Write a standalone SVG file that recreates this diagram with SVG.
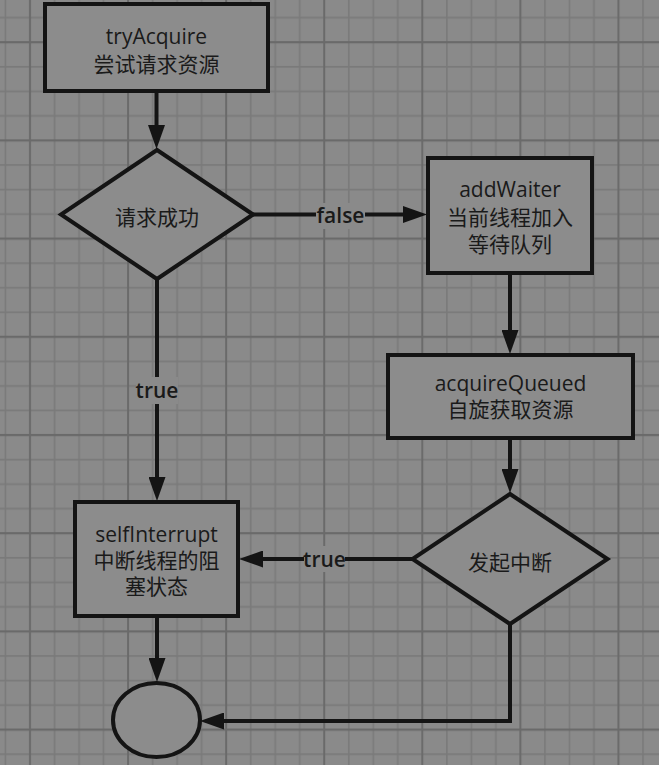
<svg xmlns="http://www.w3.org/2000/svg" width="659" height="765" viewBox="0 0 659 765">
<defs>
<style>
.node{fill:#8c8c8c;stroke:#141414;stroke-width:4;stroke-linejoin:miter}
.t{font-family:"Open Sans","Noto Sans CJK SC",sans-serif;font-size:21px;fill:#1a1a1a;text-anchor:middle}
.lbl{font-weight:600}
.lblbg{fill:#8a8a8a}
.edge{fill:none;stroke:#141414;stroke-width:4}
.minor{stroke:#7a7a7a;stroke-width:1.6}
.major{stroke:#6a6a6a;stroke-width:2}
</style>
<pattern id="grid" x="-6.76" y="5.425" width="98.08" height="98.2" patternUnits="userSpaceOnUse">
<path class="minor" d="M12.26 0V98.2M61.3 0V98.2M85.82 0V98.2M0 12.275H98.08M0 61.375H98.08M0 85.925H98.08"/>
<path class="major" d="M36.78 0V98.2M0 36.825H98.08"/>
</pattern>
<marker id="arrow" viewBox="0 0 24 17" markerWidth="24" markerHeight="17" refX="14" refY="8.5" orient="auto" markerUnits="userSpaceOnUse">
<path d="M0 0L24 8.5L0 17z" fill="#141414"/>
</marker>
</defs>
<rect width="659" height="765" fill="#8a8a8a"/>
<rect width="659" height="765" fill="url(#grid)"/>

<g id="connectors">
<path class="edge" d="M156.5 91V139" marker-end="url(#arrow)"/>
<path class="edge" d="M253 214.5H417" marker-end="url(#arrow)"/>
<path class="edge" d="M510 273V344" marker-end="url(#arrow)"/>
<path class="edge" d="M510 438V483" marker-end="url(#arrow)"/>
<path class="edge" d="M413 559H249" marker-end="url(#arrow)"/>
<path class="edge" d="M157 279V491" marker-end="url(#arrow)"/>
<path class="edge" d="M157 616V672" marker-end="url(#arrow)"/>
<path class="edge" d="M510 624V721H210" marker-end="url(#arrow)"/>
<rect class="lblbg" x="316" y="203" width="49" height="26"/>
<text class="t lbl" x="340.5" y="222.5">false</text>
<rect class="lblbg" x="136" y="377" width="42" height="27"/>
<text class="t lbl" x="157" y="398">true</text>
<rect class="lblbg" x="304" y="546" width="41" height="26"/>
<text class="t lbl" x="324.5" y="567">true</text>
</g>

<g id="tryAcquire">
<rect class="node" x="45" y="4" width="223" height="87"/>
<text class="t" x="156.5" y="44">tryAcquire</text>
<text class="t" x="156.5" y="72">尝试请求资源</text>
</g>

<g id="requestSuccess">
<polygon class="node" points="157,150 253,214.5 157,279 61,214.5"/>
<text class="t" x="157" y="225">请求成功</text>
</g>

<g id="addWaiter">
<rect class="node" x="428" y="158" width="164" height="115"/>
<text class="t" x="510" y="197">addWaiter</text>
<text class="t" x="510" y="225">当前线程加入</text>
<text class="t" x="510" y="252">等待队列</text>
</g>

<g id="acquireQueued">
<rect class="node" x="388" y="355" width="245" height="83"/>
<text class="t" x="510.5" y="391">acquireQueued</text>
<text class="t" x="510.5" y="417">自旋获取资源</text>
</g>

<g id="interrupt">
<polygon class="node" points="510,494 607.5,559 510,624 412.5,559"/>
<text class="t" x="510" y="570">发起中断</text>
</g>

<g id="selfInterrupt">
<rect class="node" x="75" y="502" width="163" height="114"/>
<text class="t" x="156.5" y="542">selfInterrupt</text>
<text class="t" x="156.5" y="568">中断线程的阻</text>
<text class="t" x="156.5" y="594">塞状态</text>
</g>

<g id="end">
<ellipse class="node" cx="156.5" cy="720" rx="43.5" ry="37"/>
</g>
</svg>
